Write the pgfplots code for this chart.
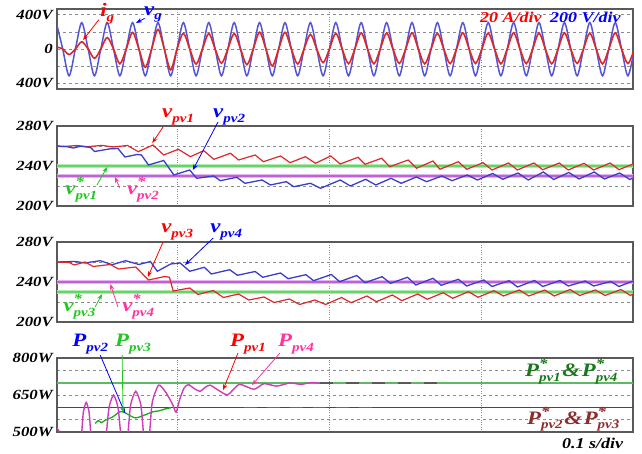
\documentclass[border=0pt]{standalone}
\usepackage{pgfplots}
\pgfplotsset{compat=1.18}
\usetikzlibrary{arrows.meta}
\usepackage{fontspec}
\setmainfont{Liberation Serif}[FakeStretch=1.2]
\definecolor{tred}{RGB}{222,40,40}
\definecolor{tblue}{RGB}{60,60,205}
\definecolor{vgc}{RGB}{85,85,215}
\definecolor{lred}{RGB}{255,0,0}
\definecolor{lblue}{RGB}{0,0,255}
\definecolor{lgreen}{RGB}{30,200,30}
\definecolor{lpink}{RGB}{255,50,160}
\definecolor{refgreenA}{RGB}{175,235,175}
\definecolor{refgreenB}{RGB}{105,210,105}
\definecolor{refmagA}{RGB}{228,180,238}
\definecolor{refmagB}{RGB}{190,100,210}
\definecolor{pgreen}{RGB}{95,185,100}
\definecolor{pbrown}{RGB}{140,45,45}
\definecolor{dgreen}{RGB}{25,120,25}
\definecolor{tmag}{RGB}{205,60,185}
\definecolor{dashgreen}{RGB}{60,140,40}
\definecolor{framegray}{RGB}{90,90,90}
\definecolor{gridgray}{RGB}{140,140,140}
\newcommand{\sym}[3]{{\fontsize{19}{19}\selectfont #1}\rlap{\raisebox{8pt}{\fontsize{14}{14}\selectfont #2}}\raisebox{-4.5pt}{\fontsize{12.5}{12.5}\selectfont #3}}
\tikzset{arr/.style={-{Stealth[length=6pt,width=4.5pt]}, line width=0.8pt},
  lab/.style={anchor=base west, inner sep=0pt, font=\bfseries\itshape}}
\pgfplotsset{
  panel/.style={
    scale only axis, width=576pt,
    xmin=-18.9, xmax=71.8,
    axis line style={framegray, line width=1.6pt},
    xtick={0,24,48}, xticklabels={},
    major tick length=0pt,
    xmajorgrids, ymajorgrids,
    x grid style={gridgray, dotted, line width=0.9pt},
    y grid style={gridgray, dash pattern=on 3pt off 3pt, line width=0.9pt},
    yticklabel style={font=\fontsize{14}{14}\selectfont\bfseries\itshape, anchor=east, inner sep=0pt, xshift=-4pt},
    clip mode=individual,
  },
}
\begin{document}
\begin{tikzpicture}
% ---------------- panel 1 ----------------
\begin{axis}[panel, at={(57pt,365pt)}, anchor=south west, height=80pt,
  ymin=-470, ymax=470, ytick={-400,-200,0,200,400}, yticklabels={400V,{},0,{},400V}]
\addplot[vgc, line width=1.5pt, smooth] coordinates {
(-19,310) (-18,0) (-17,-315) (-16,0) (-15,310) (-14,0) (-13,-315) (-12,0) (-11,310) (-10,0) (-9,-315) (-8,0) (-7,310) (-6,0) (-5,-315) (-4,0) (-3,310) (-2,0) (-1,-315) (0,0) (1,310) (2,0) (3,-315) (4,0) (5,310) (6,0) (7,-315) (8,0) (9,310) (10,0) (11,-315) (12,0) (13,310) (14,0) (15,-315) (16,0) (17,310) (18,0) (19,-315) (20,0) (21,310) (22,0) (23,-315) (24,0) (25,310) (26,0) (27,-315) (28,0) (29,310) (30,0) (31,-315) (32,0) (33,310) (34,0) (35,-315) (36,0) (37,310) (38,0) (39,-315) (40,0) (41,310) (42,0) (43,-315) (44,0) (45,310) (46,0) (47,-315) (48,0) (49,310) (50,0) (51,-315) (52,0) (53,310) (54,0) (55,-315) (56,0) (57,310) (58,0) (59,-315) (60,0) (61,310) (62,0) (63,-315) (64,0) (65,310) (66,0) (67,-315) (68,0) (69,310) (70,0) (71,-315) (72,0)};
\addplot[tred, line width=1.6pt, smooth] coordinates {
(-19,25) (-18,0) (-17,-65) (-16,0) (-15,85) (-14,0) (-13,-110) (-12,0) (-11,135) (-10,0) (-9,-175) (-8,0) (-7,195) (-6,0) (-5,-215) (-4,0) (-3,230) (-2,0) (-1,-245) (0,0) (1,185) (2,0) (3,-178) (4,0) (5,182) (6,0) (7,-168) (8,0) (9,182) (10,0) (11,-185) (12,0) (13,198) (14,0) (15,-200) (16,0) (17,196) (18,0) (19,-178) (20,0) (21,172) (22,0) (23,-160) (24,0) (25,185) (26,0) (27,-172) (28,0) (29,190) (30,0) (31,-175) (32,0) (33,188) (34,0) (35,-170) (36,0) (37,190) (38,0) (39,-175) (40,0) (41,185) (42,0) (43,-172) (44,0) (45,190) (46,0) (47,-170) (48,0) (49,188) (50,0) (51,-175) (52,0) (53,190) (54,0) (55,-172) (56,0) (57,188) (58,0) (59,-175) (60,0) (61,190) (62,0) (63,-170) (64,0) (65,188) (66,0) (67,-175) (68,0) (69,190) (70,0) (71,-172) (72,0)};
\node[lab, lred] at (axis cs:-12.1,380) {\sym{i}{}{g}};
\node[lab, lblue] at (axis cs:-5.2,395) {\sym{v}{}{g}};
\draw[arr, lred] (axis cs:-12.3,345) -- (axis cs:-14.8,106);
\draw[arr, lblue] (axis cs:-5.1,360) -- (axis cs:-6.45,306);
\node[lab, lred, font=\fontsize{15}{15}\selectfont\bfseries\itshape] at (axis cs:47.7,317) {20 A/div};
\node[lab, lblue, font=\fontsize{15}{15}\selectfont\bfseries\itshape] at (axis cs:58.7,317) {200 V/div};
\end{axis}
% ---------------- panel 2 ----------------
\begin{axis}[panel, at={(57pt,248pt)}, anchor=south west, height=80pt,
  ymin=200, ymax=280, ytick={200,220,240,260,280}, yticklabels={200V,{},240V,{},280V}]
\addplot[refgreenA, line width=3.6pt] coordinates {(-18.9,240) (71.8,240)};
\addplot[refgreenB, line width=1.4pt] coordinates {(-18.9,240) (71.8,240)};
\addplot[refmagA, line width=3.2pt] coordinates {(-18.9,230) (71.8,230)};
\addplot[refmagB, line width=1.4pt] coordinates {(-18.9,230) (71.8,230)};
\addplot[tred, line width=1.2pt] coordinates {
(-18.9,260) (-18.1,259.3) (-15.8,260.5) (-14.1,259.3) (-11.8,260.6) (-10.1,259) (-7.8,260.5) (-6.1,254.3) (-3.8,261) (-2.1,251) (0.2,256.7) (2.1,249.3) (4.2,255.3) (5.8,246.7) (8.4,252.7) (9.7,246) (12.3,251) (13.6,244.3) (16.3,250) (17.8,243.3) (20.2,249.3) (21.8,242.7) (24.2,250) (25.7,242) (28.5,248.7) (29.6,241.7) (32.2,247.7) (33.5,239.3) (36.4,246) (37.7,237.7) (40.3,245) (41.4,236.7) (44.3,244.3) (45.6,236.7) (48.2,243.3) (49.6,236) (52.2,243) (53.6,236) (56.2,243) (57.6,236.3) (60.2,243) (61.6,236) (64.1,242.7) (65.6,236) (68.2,243) (69.6,236.3) (71.8,242)};
\addplot[tblue, line width=1.3pt] coordinates {
(-18.9,260) (-17.5,259.5) (-16.3,258) (-15.2,259.8) (-13.6,258.5) (-13.0,254.5) (-10.5,257.2) (-9.3,257.5) (-8.2,249) (-6.3,251.5) (-5.6,251) (-4.5,241) (-2.1,245.5) (-0.5,231) (2.0,236) (3.1,227.7) (5.8,230) (6.8,225.3) (9.4,228.7) (10.7,222.7) (13.4,226) (14.7,221) (17.2,224.3) (18.4,219.3) (21.0,222.7) (22.6,217.7) (25.7,226) (27.3,220) (29.7,226.7) (31.3,221) (33.7,227.7) (35.3,222.7) (37.7,229) (39.3,224.3) (41.7,230) (43.3,225.3) (45.7,231) (47.3,226) (49.7,232.5) (51.3,226.7) (53.7,233) (55.3,226) (57.7,234) (59.3,226.5) (61.7,233.5) (63.3,227) (65.7,234) (67.3,227) (69.7,233) (71.3,226.5) (71.8,228)};
\node[lab, lred] at (axis cs:-2.36,288) {\sym{v}{}{pv1}};
\node[lab, lblue] at (axis cs:5.67,288) {\sym{v}{}{pv2}};
\node[lab, lgreen] at (axis cs:-17.6,211) {\sym{v}{*}{pv1}};
\node[lab, lpink] at (axis cs:-7.9,211) {\sym{v}{*}{pv2}};
\draw[arr, lred] (axis cs:-2.2,279) -- (axis cs:-3.9,263);
\draw[arr, lblue] (axis cs:6.45,284) -- (axis cs:2.5,236);
\draw[arr, lgreen] (axis cs:-12.6,221) -- (axis cs:-11.0,239);
\draw[arr, lpink] (axis cs:-9.0,218) -- (axis cs:-9.8,229);
\end{axis}
% ---------------- panel 3 ----------------
\begin{axis}[panel, at={(57pt,132pt)}, anchor=south west, height=80pt,
  ymin=200, ymax=280, ytick={200,220,240,260,280}, yticklabels={200V,{},240V,{},280V}]
\addplot[refmagA, line width=3.2pt] coordinates {(-18.9,240) (71.8,240)};
\addplot[refmagB, line width=1.4pt] coordinates {(-18.9,240) (71.8,240)};
\addplot[refgreenA, line width=3.6pt] coordinates {(-18.9,230) (71.8,230)};
\addplot[refgreenB, line width=1.4pt] coordinates {(-18.9,230) (71.8,230)};
\addplot[tblue, line width=1.3pt] coordinates {
(-18.9,260) (-16.0,260.5) (-14.5,259) (-12.1,261.3) (-10.2,257.3) (-8.1,261.3) (-6.0,257.5) (-4.2,260.5) (-3.1,250.7) (-1.0,258) (0.5,259) (2.0,250.7) (4.3,254.7) (5.4,248) (8.3,252.3) (9.5,246.7) (12.3,250.5) (13.5,244.7) (16.3,249) (17.5,243.3) (20.3,247.3) (21.5,241.3) (24.3,247.5) (25.6,240.3) (28.3,246.5) (29.6,239.3) (32.3,245.3) (33.6,238.7) (36.3,244.7) (37.6,237) (40.3,243.7) (41.6,236.7) (44.3,242.7) (45.6,236) (48.3,242) (49.6,235.5) (52.3,241.3) (53.6,235) (56.3,241.5) (57.6,235.5) (60.3,241.5) (61.6,236) (64.3,241) (65.6,236) (68.3,240.5) (69.6,235.5) (71.8,241)};
\addplot[tred, line width=1.2pt] coordinates {
(-18.9,260) (-17.0,259.5) (-16.2,257) (-14.5,260) (-13.2,255.5) (-10.5,257.5) (-9.2,253) (-6.5,255) (-4.5,242) (-1.9,245.5) (-1.2,244.7) (-0.6,231) (2.0,234) (3.3,227.5) (5.7,231.5) (7.3,224.5) (9.7,228) (11.3,222) (13.7,225) (15.3,219.5) (17.7,223) (19.3,217.5) (21.7,222) (23.4,217.5) (25.9,224.5) (27.4,219.3) (29.9,226) (31.4,220.3) (33.9,227) (35.4,221.3) (37.9,228) (39.4,222.7) (41.9,229.3) (43.4,223.7) (45.9,230.3) (47.4,224.7) (49.9,231.3) (51.4,226) (53.9,232) (55.4,226) (57.9,232) (59.4,226) (61.9,232.5) (63.4,226.5) (65.9,232) (67.4,226.5) (69.9,232.5) (71.4,226.5) (71.8,228)};
\node[lab, lred] at (axis cs:-2.5,289) {\sym{v}{}{pv3}};
\node[lab, lblue] at (axis cs:5.2,289) {\sym{v}{}{pv4}};
\node[lab, lgreen] at (axis cs:-17.9,210) {\sym{v}{*}{pv3}};
\node[lab, lpink] at (axis cs:-8.65,210) {\sym{v}{*}{pv4}};
\draw[arr, lred] (axis cs:-2.2,280) -- (axis cs:-4.6,245);
\draw[arr, lblue] (axis cs:5.7,284) -- (axis cs:1.26,257);
\draw[arr, lgreen] (axis cs:-12.9,215) -- (axis cs:-11.8,228);
\draw[arr, lpink] (axis cs:-9.3,215) -- (axis cs:-10.5,238);
\end{axis}
% ---------------- panel 4 ----------------
\begin{axis}[panel, at={(57pt,22pt)}, anchor=south west, height=74pt,
  ymin=500, ymax=800, ytick={500,550,650,750,800}, yticklabels={500W,{},650W,{},800W}]
\addplot[pgreen, line width=2pt] coordinates {(-18.9,700) (71.8,700)};
\addplot[pbrown, line width=1.3pt] coordinates {(-18.9,600) (71.8,600)};
\addplot[tmag, line width=1.3pt] coordinates {(-18.9,515) (-18.6,505) (-18.4,470)};
\addplot[lgreen!85!black, line width=1.3pt, smooth] coordinates {
(-12.9,535) (-12.4,546) (-11.9,538) (-11.3,548) (-10.2,560) (-9.0,582) (-8.2,578) (-7.3,565) (-6.5,557) (-5.5,565) (-4.5,575) (-3.8,582) (-2.8,586) (-1.8,594) (-1.0,598)};
\addplot[dashgreen, line width=1.6pt, dash pattern=on 13pt off 10pt] coordinates {(10.5,600) (32,600)};
\addplot[tmag, line width=1.4pt, smooth, tension=0.4] coordinates {
(-15.3,420) (-15.0,500) (-14.75,580) (-14.3,620) (-13.85,580) (-13.6,500) (-13.3,420)
(-11.4,420) (-11.1,500) (-10.7,600) (-10.0,650) (-9.3,600) (-8.9,500) (-8.6,420)
(-8.0,420) (-7.7,500) (-7.3,610) (-6.5,665) (-5.7,610) (-5.3,500) (-5.0,420)
(-4.6,420) (-4.3,500) (-3.9,620) (-2.9,690) (-1.8,662) (-0.7,612) (-0.15,580) (0.4,630) (1.1,678) (1.8,692) (2.7,676) (3.6,665) (4.4,680) (5.2,690) (6.6,668) (8.0,651) (9.8,693) (12.1,673) (13.7,696) (15.7,686) (17.8,699) (19.5,693) (21,700) (22.5,698)};
\addplot[black!65, line width=1.6pt, dash pattern=on 13pt off 13pt] coordinates {(22.5,699) (41,699)};
\node[lab, lblue] at (axis cs:-16.5,845) {\sym{P}{}{pv2}};
\node[lab, lgreen] at (axis cs:-9.76,845) {\sym{P}{}{pv3}};
\node[lab, lred] at (axis cs:8.34,845) {\sym{P}{}{pv1}};
\node[lab, lpink] at (axis cs:15.9,845) {\sym{P}{}{pv4}};
\draw[arr, lblue] (axis cs:-12.1,812) -- (axis cs:-8.2,577);
\draw[arr, lgreen] (axis cs:-8.65,812) -- (axis cs:-8.5,577);
\draw[arr, lred] (axis cs:9.6,820) -- (axis cs:7.24,670);
\draw[arr, lpink] (axis cs:16.2,820) -- (axis cs:11.8,690);
\node[lab, dgreen] at (axis cs:54.8,723) {\sym{P}{*}{pv1}\,{\fontsize{19}{19}\selectfont\&}\,\sym{P}{*}{pv4}};
\node[lab, pbrown] at (axis cs:55.1,532) {\sym{P}{*}{pv2}\,{\fontsize{19}{19}\selectfont\&}\,\sym{P}{*}{pv3}};
\node[lab, black, font=\fontsize{15}{15}\selectfont\bfseries\itshape] at (axis cs:60.6,435) {0.1 s/div};
\end{axis}
\pgfresetboundingbox
\useasboundingbox (0,0) rectangle (642pt,454pt);
\end{tikzpicture}
\end{document}
